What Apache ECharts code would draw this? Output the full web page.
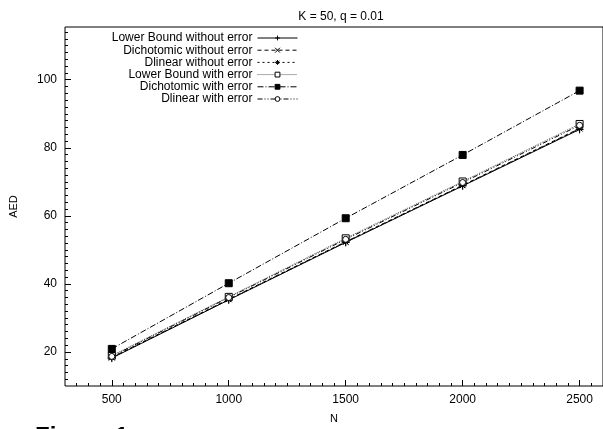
<!DOCTYPE html>
<html><head><meta charset="utf-8">
<script src="https://cdn.jsdelivr.net/npm/echarts@6/dist/echarts.min.js"></script>
<style>html,body{margin:0;padding:0;background:#fff}#c{width:603px;height:429px}</style>
</head><body><div id="c"></div>
<script>
const N = [500, 1000, 1500, 2000, 2500];
const lbWithout = [18.2, 35.3, 52.2, 68.8, 85.4];
const dichWithout = [18.4, 35.5, 52.4, 69.0, 85.7];
const dlinWithout = [18.3, 35.4, 52.3, 68.9, 85.6];
const lbWith = [18.9, 36.2, 53.4, 70.1, 87.0];
const dichWith = [20.9, 40.2, 59.3, 77.9, 96.8];
const dlinWith = [18.7, 36.0, 53.1, 69.8, 86.6];
const names = ['Lower Bound without error','Dichotomic without error','Dlinear without error','Lower Bound with error','Dichotomic with error','Dlinear with error'];
const xLabels = [500, 1000, 1500, 2000, 2500];
const yLabels = [20, 40, 60, 80, 100];

const xMinor = []; for (let v = 350; v <= 2550; v += 50) xMinor.push(v);
const yMinor = []; for (let v = 12; v <= 114; v += 2) yMinor.push(v);

const FONT = 'Liberation Sans';
const plus = 'path://M0,5L10,5M5,0L5,10';
const cross = 'path://M0,0L10,10M10,0L0,10';
const star = 'path://M0,5L10,5M5,0L5,10M1.5,1.5L8.5,8.5M8.5,1.5L1.5,8.5';

function mk(name, data, lineType, color, symbol, fill, size) {
  return {
    name, type: 'line', data: data.map((v, i) => [N[i], v]),
    symbol, symbolSize: size, showSymbol: true,
    lineStyle: {color, width: 1, type: lineType},
    itemStyle: {color: fill, borderColor: '#000', borderWidth: 1},
    emphasis: {disabled: true}, z: 3
  };
}

const chart = echarts.init(document.getElementById('c'), null, {renderer: 'canvas'});
chart.setOption({
  animation: false,
  backgroundColor: '#fff',
  title: {text: 'K = 50, q = 0.01', left: 336, top: 6, textAlign: 'center',
    textStyle: {fontFamily: FONT, fontSize: 12, fontWeight: 'normal', color: '#000'}},
  grid: {left: 65, top: 27, width: 541.7, height: 364, show: true, borderColor: '#000', borderWidth: 1, backgroundColor: 'transparent'},
  legend: {
    orient: 'vertical', align: 'right', right: 305, top: 32, padding: 0,
    itemWidth: 40, itemHeight: 6, itemGap: 0.2,
    lineStyle: {width: 1},
    itemStyle: {borderWidth: 1},
    textStyle: {fontFamily: FONT, fontSize: 12, color: '#000', lineHeight: 12, padding: 0},
    data: names
  },
  xAxis: [{
    type: 'value', min: 300, max: 2600, name: 'N', nameLocation: 'middle', nameGap: 27,
    nameTextStyle: {fontFamily: FONT, fontSize: 11, color: '#000'},
    axisLine: {show: false}, splitLine: {show: false},
    axisTick: {show: true, inside: true, length: 3, customValues: xMinor, lineStyle: {color: '#000'}},
    axisLabel: {customValues: xLabels, formatter: v => String(v), fontFamily: FONT, fontSize: 12, color: '#000', margin: 8}
  }, {
    type: 'value', min: 300, max: 2600, position: 'bottom',
    axisLine: {show: false}, splitLine: {show: false},
    axisTick: {show: true, inside: true, length: 6, customValues: xLabels, lineStyle: {color: '#000'}},
    axisLabel: {show: false}
  }],
  yAxis: [{
    type: 'value', min: 10, max: 115.5, name: 'AED', nameLocation: 'middle', nameGap: 46,
    nameTextStyle: {fontFamily: FONT, fontSize: 11, color: '#000'},
    axisLine: {show: false}, splitLine: {show: false},
    axisTick: {show: true, inside: true, length: 3, customValues: yMinor, lineStyle: {color: '#000'}},
    axisLabel: {customValues: yLabels, formatter: v => String(v), fontFamily: FONT, fontSize: 12, color: '#000', margin: 8}
  }, {
    type: 'value', min: 10, max: 115.5, position: 'left',
    axisLine: {show: false}, splitLine: {show: false},
    axisTick: {show: true, inside: true, length: 6, customValues: yLabels, lineStyle: {color: '#000'}},
    axisLabel: {show: false}
  }],
  graphic: [{type: 'text', left: 35, top: 425, style: {text: 'Figure 1', fontFamily: FONT, fontSize: 24, fontWeight: 'bold', fill: '#000'}}],
  series: [
    mk(names[0], lbWithout, 'solid', '#000', plus, 'none', 8),
    mk(names[1], dichWithout, [4, 3], '#000', cross, 'none', 6),
    mk(names[2], dlinWithout, [2, 3], '#000', star, 'none', 7),
    mk(names[3], lbWith, [1, 1], '#555', 'rect', '#fff', 7),
    mk(names[4], dichWith, [6, 2, 1, 2], '#000', 'rect', '#000', 7),
    mk(names[5], dlinWith, [5, 2, 1, 2, 1, 2], '#000', 'circle', '#fff', 6)
  ]
});
</script></body></html>
